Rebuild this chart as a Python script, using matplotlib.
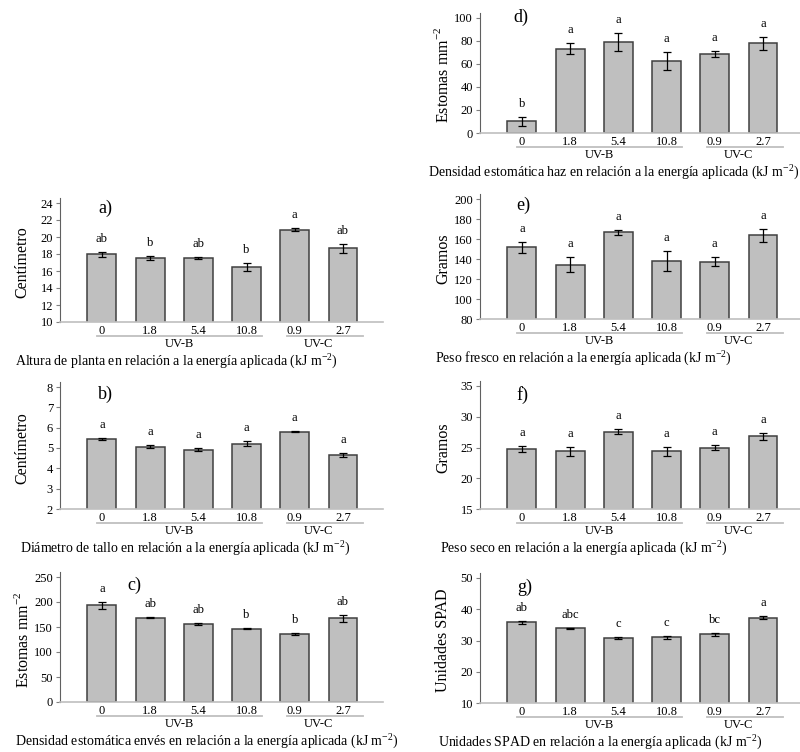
import numpy as np
import matplotlib
matplotlib.use('Agg')
import matplotlib.pyplot as plt
import matplotlib.transforms as mtransforms

plt.rcParams['font.family'] = ['Liberation Serif', 'DejaVu Serif']
plt.rcParams['mathtext.fontset'] = 'custom'
plt.rcParams['mathtext.rm'] = 'Liberation Serif'

energias = ['0', '1.8', '5.4', '10.8', '0.9', '2.7']

altura = [17.95, 17.55, 17.55, 16.45, 20.85, 18.65]
err_altura = [0.3, 0.25, 0.15, 0.5, 0.2, 0.5]
let_altura = ['ab', 'b', 'ab', 'b', 'a', 'ab']

diametro = [5.44, 5.07, 4.92, 5.21, 5.80, 4.65]
err_diametro = [0.07, 0.07, 0.06, 0.12, 0.03, 0.1]
let_diametro = ['a', 'a', 'a', 'a', 'a', 'a']

enves = [194, 169, 156, 147, 136, 168]
err_enves = [7, 1.5, 1.5, 1, 1.5, 7]
let_enves = ['a', 'ab', 'ab', 'b', 'b', 'ab']

haz = [10, 73, 79, 62.5, 68.5, 77.5]
err_haz = [4.2, 4.6, 7.8, 8, 2.3, 5.8]
let_haz = ['b', 'a', 'a', 'a', 'a', 'a']

fresco = [152, 134.5, 166.5, 138.5, 137.5, 163.5]
err_fresco = [5.5, 7.5, 2.8, 10, 4.5, 6.5]
let_fresco = ['a', 'a', 'a', 'a', 'a', 'a']

seco = [24.8, 24.4, 27.6, 24.4, 25.0, 26.8]
err_seco = [0.5, 0.75, 0.4, 0.75, 0.45, 0.5]
let_seco = ['a', 'a', 'a', 'a', 'a', 'a']

spad = [35.8, 33.9, 30.8, 31.1, 32.0, 37.3]
err_spad = [0.5, 0.15, 0.3, 0.5, 0.5, 0.4]
let_spad = ['ab', 'abc', 'c', 'c', 'bc', 'a']

sup = '$^{\\mathregular{-2}}$'

W, H = 800, 752
fig = plt.figure(figsize=(W / 100, H / 100), dpi=100)


def panel(x0, ytop, ybot, vals, errs, letras, ticks, ylab, xlab, etiqueta,
          lab_pos, ylab_x, xlab_x):
    lo, hi = ticks[0], ticks[-1]
    extra = 0.04
    hpx = (ybot - ytop) * (1 + extra)
    wpx = 323
    ax = fig.add_axes([x0 / W, 1 - ybot / H, wpx / W, hpx / H])
    x = np.arange(len(vals))
    ax.bar(x, vals, width=0.6, color='#bfbfbf', edgecolor='#404040',
           linewidth=1.1, zorder=2)
    ax.errorbar(x, vals, yerr=errs, fmt='none', ecolor='black',
                elinewidth=0.9, capsize=3, capthick=0.9, zorder=3)
    for xi, v, e, l in zip(x, vals, errs, letras):
        ax.annotate(l, (xi, v + e), xytext=(0, 5), textcoords='offset points',
                    ha='center', va='bottom', fontsize=9)
    ax.set_xlim(-0.87, 5.83)
    ax.set_ylim(lo, hi + extra * (hi - lo))
    ax.set_yticks(ticks)
    ax.set_xticks(x)
    ax.set_xticklabels(energias, fontsize=9)
    ax.tick_params(axis='x', length=0, pad=2)
    ax.tick_params(axis='y', length=3, color='#808080', labelsize=9, pad=2)
    for s in ['top', 'right']:
        ax.spines[s].set_visible(False)
    ax.spines['left'].set_color('#606060')
    ax.spines['bottom'].set_color('#bfbfbf')
    ax.spines['bottom'].set_linewidth(1.2)
    ax.text(lab_pos[0], lab_pos[1], etiqueta, transform=ax.transAxes,
            ha='center', va='center', fontsize=13)

    # grupos UV-B / UV-C bajo las etiquetas
    tr = mtransforms.blended_transform_factory(ax.transData, ax.transAxes)
    dy = 1 / hpx
    for (a, b), nombre, xc in [((-0.1, 3.32), 'UV-B', 1.6),
                                ((3.84, 5.41), 'UV-C', 4.5)]:
        ax.plot([a, b], [-14 * dy, -14 * dy], transform=tr, color='#bfbfbf',
                lw=1.3, clip_on=False)
        ax.text(xc, -22 * dy, nombre, transform=tr, ha='center', va='center',
                fontsize=9)
    fig.text(xlab_x / W, 1 - (ybot + 39) / H, xlab, ha='left', va='center',
             fontsize=10)
    fig.text(ylab_x / W, 1 - ((ytop + ybot) / 2) / H, ylab, rotation=90,
             ha='center', va='center', fontsize=11.5)
    return ax


panel(60, 203, 322, altura, err_altura, let_altura, list(range(10, 25, 2)),
      'Centímetro',
      'Altura de planta en relación a la energía aplicada (kJ m' + sup + ')',
      'a)', (0.14, 0.92), 22, 15)
panel(60, 387, 509, diametro, err_diametro, let_diametro, list(range(2, 9)),
      'Centímetro',
      'Diámetro de tallo en relación a la energía aplicada (kJ m' + sup + ')',
      'b)', (0.14, 0.905), 22, 20)
panel(60, 577, 702, enves, err_enves, let_enves, list(range(0, 251, 50)),
      'Estomas mm' + sup,
      'Densidad estomática envés en relación a la energía aplicada (kJ m' + sup + ')',
      'c)', (0.23, 0.9), 23, 15)
panel(480, 17.5, 133, haz, err_haz, let_haz, list(range(0, 101, 20)),
      'Estomas mm' + sup,
      'Densidad estomática haz en relación a la energía aplicada (kJ m' + sup + ')',
      'd)', (0.125, 0.96), 443, 428)
panel(480, 199, 319, fresco, err_fresco, let_fresco, list(range(80, 201, 20)),
      'Gramos',
      'Peso fresco en relación a la energía aplicada (kJ m' + sup + ')',
      'e)', (0.135, 0.91), 443, 435)
panel(480, 386, 509, seco, err_seco, let_seco, list(range(15, 36, 5)),
      'Gramos',
      'Peso seco en relación a la energía aplicada (kJ m' + sup + ')',
      'f)', (0.13, 0.89), 443, 440)
panel(480, 578, 703, spad, err_spad, let_spad, list(range(10, 51, 10)),
      'Unidades SPAD',
      'Unidades SPAD en relación a la energía aplicada (kJ m' + sup + ')',
      'g)', (0.14, 0.89), 443, 438)

fig.savefig('out.png', dpi=100)
